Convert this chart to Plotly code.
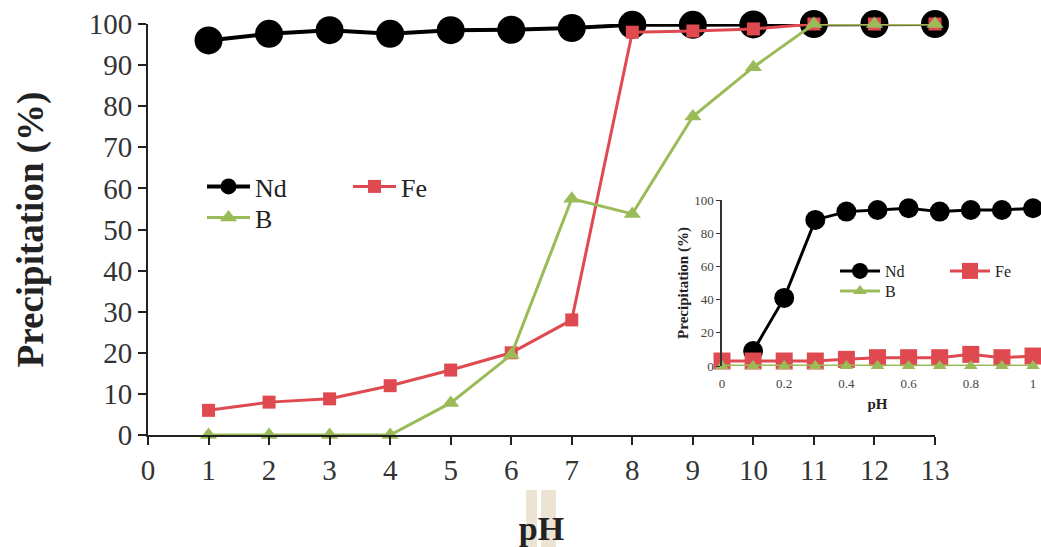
import plotly.graph_objects as go

# Main chart data
ph_main = [1, 2, 3, 4, 5, 6, 7, 8, 9, 10, 11, 12, 13]
nd_main = [96, 97.6, 98.5, 97.6, 98.5, 98.6, 99, 99.8, 99.8, 99.9, 100, 100, 100]
fe_main = [6, 8, 8.8, 12, 15.8, 20, 28, 98, 98.3, 98.8, 100, 100, 100]
b_main = [0, 0, 0, 0, 7.8, 19.5, 57.5, 53.8, 77.5, 89.5, 100, 100, 100]

# Inset data
ph_inset = [0, 0.1, 0.2, 0.3, 0.4, 0.5, 0.6, 0.7, 0.8, 0.9, 1.0]
nd_inset = [None, 9, 41, 88, 93, 94, 95, 93, 94, 94, 95]
fe_inset = [3, 3, 3, 3, 4, 5, 5, 5, 7, 5, 6]
b_inset = [0, 0, 0, 0, 0, 0, 0, 0, 0, 0, 0]

x_ticks_main = list(range(0, 14))
y_ticks_main = list(range(0, 101, 10))
x_ticks_inset = [0, 0.2, 0.4, 0.6, 0.8, 1]
x_ticktext_inset = ["0", "0.2", "0.4", "0.6", "0.8", "1"]
y_ticks_inset = [0, 20, 40, 60, 80, 100]

BLACK = "#000000"
RED = "#df4a50"
GREEN = "#9bbb59"
FONT = "Liberation Serif"
TXT = "#222222"

fig = go.Figure()

# main traces
fig.add_trace(go.Scatter(x=ph_main, y=nd_main, name="Nd", mode="lines+markers",
                         line=dict(color=BLACK, width=4),
                         marker=dict(symbol="circle", size=28, color=BLACK),
                         xaxis="x", yaxis="y", legend="legend", cliponaxis=False))
fig.add_trace(go.Scatter(x=ph_main, y=fe_main, name="Fe", mode="lines+markers",
                         line=dict(color=RED, width=3),
                         marker=dict(symbol="square", size=13, color=RED),
                         xaxis="x", yaxis="y", legend="legend", cliponaxis=False))
fig.add_trace(go.Scatter(x=ph_main, y=b_main, name="B", mode="lines+markers",
                         line=dict(color=GREEN, width=3),
                         marker=dict(symbol="triangle-up", size=15, color=GREEN),
                         xaxis="x", yaxis="y", legend="legend3", cliponaxis=False))

# inset traces
fig.add_trace(go.Scatter(x=ph_inset, y=nd_inset, name="Nd", mode="lines+markers",
                         line=dict(color=BLACK, width=3),
                         marker=dict(symbol="circle", size=20, color=BLACK),
                         xaxis="x2", yaxis="y2", legend="legend2", cliponaxis=False))
fig.add_trace(go.Scatter(x=ph_inset, y=fe_inset, name="Fe", mode="lines+markers",
                         line=dict(color=RED, width=3),
                         marker=dict(symbol="square", size=17, color=RED),
                         xaxis="x2", yaxis="y2", legend="legend2", cliponaxis=False))
fig.add_trace(go.Scatter(x=ph_inset, y=b_inset, name="B", mode="lines+markers",
                         line=dict(color=GREEN, width=3),
                         marker=dict(symbol="triangle-up", size=12, color=GREEN),
                         xaxis="x2", yaxis="y2", legend="legend4", cliponaxis=False))

W, H = 1041, 547


def dx(px):
    return px / W


def dy(py):
    return (H - py) / H


fig.update_layout(
    width=W, height=H,
    margin=dict(l=0, r=0, t=0, b=0, autoexpand=False),
    paper_bgcolor="white", plot_bgcolor="rgba(0,0,0,0)",
    font=dict(family=FONT, color=TXT),
    xaxis=dict(domain=[dx(148), dx(935)], range=[0, 13], tickvals=x_ticks_main,
               showgrid=False, zeroline=False, showline=True, linecolor=TXT, linewidth=2,
               ticks="outside", ticklen=8, tickwidth=2, tickcolor=TXT,
               tickfont=dict(family=FONT, size=29, color="#333333"),
               title=dict(text="<b>pH</b>", font=dict(family=FONT, size=34, color=TXT), standoff=33),
               automargin=False, anchor="y"),
    yaxis=dict(domain=[dy(435), dy(24)], range=[0, 100], tickvals=y_ticks_main,
               showgrid=False, zeroline=False, showline=True, linecolor=TXT, linewidth=2,
               ticks="outside", ticklen=8, tickwidth=2, tickcolor=TXT,
               tickfont=dict(family=FONT, size=29, color="#333333"),
               title=dict(text="<b>Precipitation (%)</b>", font=dict(family=FONT, size=37, color=TXT), standoff=34),
               automargin=False, anchor="x"),
    xaxis2=dict(domain=[dx(722), dx(1033)], range=[0, 1], tickvals=x_ticks_inset,
                ticktext=x_ticktext_inset,
                showgrid=False, zeroline=False, showline=False,
                ticks="outside", ticklen=5, tickcolor="rgba(0,0,0,0)",
                tickfont=dict(family=FONT, size=13, color="#444444"),
                title=dict(text="<b>pH</b>", font=dict(family=FONT, size=15, color=TXT), standoff=8),
                automargin=False, anchor="y2"),
    yaxis2=dict(domain=[dy(366), dy(200)], range=[0, 100], tickvals=y_ticks_inset,
                showgrid=False, zeroline=False, showline=True, linecolor="#333333", linewidth=1.5,
                ticks="outside", ticklen=4, tickcolor="#333333",
                tickfont=dict(family=FONT, size=13, color="#444444"),
                title=dict(text="<b>Precipitation (%)</b>", font=dict(family=FONT, size=15, color=TXT), standoff=2),
                automargin=False, anchor="x2"),
    legend=dict(x=dx(202), y=dy(163), xanchor="left", yanchor="top", orientation="h",
                font=dict(family=FONT, size=26, color=TXT), bgcolor="rgba(0,0,0,0)",
                itemwidth=43, entrywidth=88, entrywidthmode="pixels"),
    legend3=dict(x=dx(202), y=dy(194), xanchor="left", yanchor="top", orientation="h",
                 font=dict(family=FONT, size=26, color=TXT), bgcolor="rgba(0,0,0,0)",
                 itemwidth=43),
    legend2=dict(x=dx(835), y=dy(254), xanchor="left", yanchor="top", orientation="h",
                 font=dict(family=FONT, size=16, color=TXT), bgcolor="rgba(0,0,0,0)",
                 itemwidth=40, entrywidth=55, entrywidthmode="pixels"),
    legend4=dict(x=dx(835), y=dy(274), xanchor="left", yanchor="top", orientation="h",
                 font=dict(family=FONT, size=16, color=TXT), bgcolor="rgba(0,0,0,0)",
                 itemwidth=40),
    showlegend=True,
    shapes=[
        dict(type="rect", xref="paper", yref="paper", x0=dx(526), x1=dx(537), y0=dy(547), y1=dy(490),
             fillcolor="#ece3d3", line=dict(width=0), layer="below"),
        dict(type="rect", xref="paper", yref="paper", x0=dx(541), x1=dx(556), y0=dy(547), y1=dy(490),
             fillcolor="#ece3d3", line=dict(width=0), layer="below"),
    ],
)

fig.write_html("out.html")
